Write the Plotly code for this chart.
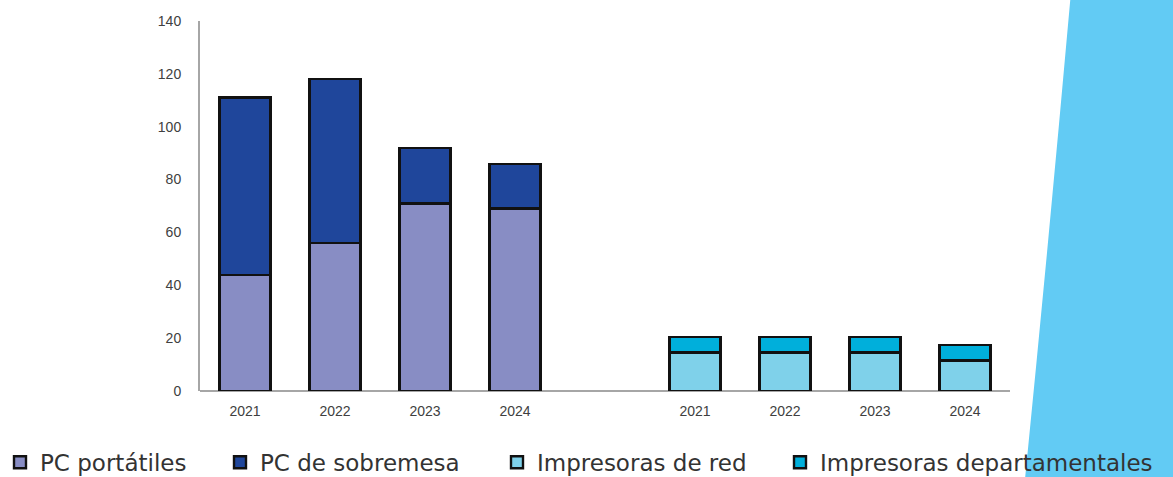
import plotly.graph_objects as go

# Years shown on each group of bars
years = ["2021", "2022", "2023", "2024"]

# Computers (units)
pc_portatiles = [44, 56, 71, 69]
pc_sobremesa = [67, 62, 21, 17]

# Printers (units)
impresoras_red = [14.5, 14.5, 14.5, 11.5]
impresoras_dept = [6, 6, 6, 6]

y_ticks = [0, 20, 40, 60, 80, 100, 120, 140]

COL_PORT = "#888dc4"
COL_SOBRE = "#1f469b"
COL_RED = "#7fd1ea"
COL_DEPT = "#00afdb"
EDGE = dict(color="#111111", width=2.4)

W, H = 1173, 477

fig = go.Figure()
fig.add_trace(go.Bar(x=years, y=pc_portatiles, name="PC portátiles", legend="legend",
                     marker=dict(color=COL_PORT, line=EDGE), xaxis="x", yaxis="y"))
fig.add_trace(go.Bar(x=years, y=pc_sobremesa, name="PC de sobremesa", legend="legend2",
                     marker=dict(color=COL_SOBRE, line=EDGE), xaxis="x", yaxis="y"))
fig.add_trace(go.Bar(x=years, y=impresoras_red, name="Impresoras de red", legend="legend3",
                     marker=dict(color=COL_RED, line=EDGE), xaxis="x2", yaxis="y"))
fig.add_trace(go.Bar(x=years, y=impresoras_dept, name="Impresoras departamentales",
                     legend="legend4",
                     marker=dict(color=COL_DEPT, line=EDGE), xaxis="x2", yaxis="y"))

tick_font = dict(family="Liberation Sans, Arial, sans-serif", size=14, color="#404040")
axis_line = "#a6a6a6"
legend_font = dict(family="DejaVu Sans, sans-serif", size=23, color="#333333")


def legend_at(px_left):
    # one legend entry per box, placed along the bottom row below the plot
    return dict(orientation="h", xref="container", yref="paper",
                x=px_left / W, y=-0.1925, xanchor="left", yanchor="middle",
                font=legend_font, bgcolor="rgba(0,0,0,0)", itemclick=False,
                itemdoubleclick=False)


fig.update_layout(
    width=W, height=H,
    margin=dict(l=200, r=163, t=21, b=86, autoexpand=False),
    paper_bgcolor="white", plot_bgcolor="white",
    barmode="stack", bargap=0.43,
    showlegend=True,
    legend=legend_at(0),
    legend2=legend_at(220),
    legend3=legend_at(497),
    legend4=legend_at(780),
    xaxis=dict(domain=[0, 4 / 9], showline=False, ticks="", showgrid=False,
               tickfont=tick_font, ticklabelstandoff=10, fixedrange=True),
    xaxis2=dict(domain=[5 / 9, 1], anchor="y", showline=False, ticks="", showgrid=False,
                tickfont=tick_font, ticklabelstandoff=10, fixedrange=True),
    yaxis=dict(range=[0, 140], tickvals=y_ticks, showgrid=False, zeroline=False,
               showline=True, linecolor=axis_line, linewidth=2, ticks="",
               ticklabelstandoff=14, tickfont=tick_font, fixedrange=True),
    shapes=[
        # decorative band on the right edge
        dict(type="path", xref="paper", yref="paper", layer="below",
             path="M 1.0802 1.2 L 1.4 1.2 L 1.4 -0.4 L 1.0111 -0.4 "
                  "Q 1.048 0.40 1.0802 1.2 Z",
             fillcolor="#62cbf4", line=dict(width=0)),
        # shared baseline under both groups
        dict(type="line", xref="paper", yref="paper", x0=0, x1=1, y0=0, y1=0,
             line=dict(color=axis_line, width=2), layer="below"),
    ],
)

fig.write_html("out.html")
